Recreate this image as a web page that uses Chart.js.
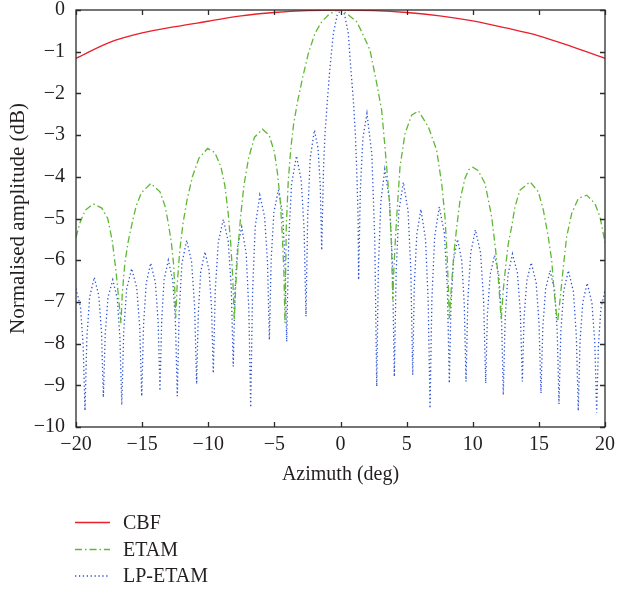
<!DOCTYPE html>
<html>
<head>
<meta charset="utf-8">
<script src="https://cdn.jsdelivr.net/npm/chart.js@4"></script>
<style>html,body{margin:0;padding:0;background:#fff;}canvas{display:block;}</style>
</head>
<body>
<canvas id="c" width="617" height="592"></canvas>
<script>
// ---- data ----
const seriesNames = ['CBF', 'ETAM', 'LP-ETAM'];
const xTicks = [-20, -15, -10, -5, 0, 5, 10, 15, 20];
const yTicks = [0, -1, -2, -3, -4, -5, -6, -7, -8, -9, -10];

const azimuthCBF = [-20, -17.5, -15, -12.5, -10, -7.5, -5, -2.5, 0, 2.5, 5, 7.5, 10, 12.5, 15, 17.5, 20];
const cbfDB      = [-1.16, -0.78, -0.55, -0.40, -0.27, -0.14, -0.06, -0.015, 0, -0.015, -0.06, -0.14, -0.26, -0.43, -0.62, -0.88, -1.16];

const azimuthETAM = [-20, -19.7, -19.3, -18.69, -18.05, -17.6, -17.25, -16.98, -16.78, -16.6,
  -16.5, -16.3, -16.05, -15.75, -15.45, -15.05, -14.35, -13.65, -13.25, -13.0, -12.78, -12.62, -12.53, -12.46,
  -12.35, -12.15, -11.9, -11.6, -11.2, -10.7, -10.05, -9.5, -9.05, -8.75, -8.5, -8.3, -8.15, -8.03,
  -7.92, -7.75, -7.55, -7.3, -6.95, -6.5, -5.9, -5.4, -5.0, -4.75, -4.55, -4.4, -4.28, -4.2,
  -4.1, -3.95, -3.75, -3.55, -3.25, -2.85, -2.43, -1.93, -1.42, -0.92, -0.42, 0, 0.47, 1.22, 1.6, 2.23, 2.74, 3.11, 3.36, 3.49, 3.69, 3.85, 3.95,
  4.05, 4.15, 4.25, 4.5, 4.88, 5.38, 5.9, 6.64, 7.27, 7.65, 7.9, 8.05, 8.15, 8.23,
  8.4, 8.6, 8.79, 9.04, 9.41, 9.7, 10.0, 10.4, 10.93, 11.43, 11.73, 11.95, 12.15,
  12.31, 12.51, 12.69, 12.94, 13.19, 13.57, 14.33, 14.96, 15.34, 15.71, 15.97, 16.14, 16.35, 16.42,
  16.6, 16.85, 17.1, 17.48, 17.98, 18.62, 19.24, 19.62, 19.92, 20];
const etamDB = [-5.45, -5.1, -4.8, -4.65, -4.75, -5.0, -5.55, -6.25, -6.9, -7.51,
  -6.8, -6.05, -5.55, -5.1, -4.7, -4.38, -4.16, -4.36, -4.72, -5.15, -5.6, -6.1, -6.7, -7.39,
  -6.6, -5.75, -5.1, -4.55, -4.0, -3.55, -3.32, -3.42, -3.75, -4.2, -4.85, -5.6, -6.4, -7.43,
  -6.6, -5.7, -4.95, -4.2, -3.55, -3.05, -2.86, -3.0, -3.4, -3.95, -4.6, -5.4, -6.3, -7.51,
  -5.2, -4.1, -3.3, -2.75, -2.2, -1.6, -1.04, -0.56, -0.28, -0.12, -0.02, 0, -0.08, -0.28, -0.52, -0.96, -1.76, -2.4, -3.28, -3.76, -4.56, -5.6, -6.95,
  -6.1, -5.5, -4.96, -3.76, -2.96, -2.52, -2.42, -2.8, -3.36, -4.16, -4.96, -5.8, -6.6, -7.4,
  -6.55, -5.76, -5.2, -4.56, -4.04, -3.83, -3.77, -3.85, -4.16, -4.96, -5.76, -6.5, -7.43,
  -6.71, -6.08, -5.6, -5.2, -4.72, -4.32, -4.12, -4.36, -4.8, -5.44, -6.0, -6.71, -7.35, -7.47,
  -6.95, -6.16, -5.44, -4.88, -4.52, -4.44, -4.64, -4.96, -5.44, -5.58];

const azimuthLP = [-20, -19.66, -19.46, -19.32,
  -19.18, -18.97, -18.62, -18.28, -18.07, -17.93,
  -17.79, -17.58, -17.22, -16.88, -16.68, -16.54,
  -16.39, -16.17, -15.79, -15.41, -15.18, -15.03,
  -14.89, -14.69, -14.35, -14.0, -13.79, -13.65,
  -13.52, -13.34, -13.02, -12.68, -12.48, -12.34,
  -12.2, -11.99, -11.63, -11.26, -11.03, -10.88,
  -10.75, -10.57, -10.25, -9.94, -9.75, -9.62,
  -9.47, -9.24, -8.86, -8.49, -8.26, -8.11,
  -7.98, -7.79, -7.47, -7.13, -6.93, -6.79,
  -6.65, -6.45, -6.1, -5.74, -5.52, -5.38,
  -5.24, -5.04, -4.7, -4.38, -4.2, -4.07,
  -3.92, -3.7, -3.33, -2.97, -2.75, -2.61,
  -2.48, -2.29, -1.97, -1.7, -1.53, -1.42,
  -1.36, -1.28, -1.17, -0.99, -0.79, -0.54, -0.25, 0, 0.3, 0.59, 0.77, 0.97, 1.12, 1.22, 1.33, 1.37,
  1.5, 1.69, 2.0, 2.37, 2.59, 2.74,
  2.86, 3.05, 3.35, 3.71, 3.93, 4.07,
  4.21, 4.41, 4.75, 5.11, 5.32, 5.46,
  5.58, 5.77, 6.08, 6.43, 6.63, 6.77,
  6.91, 7.12, 7.47, 7.85, 8.08, 8.23,
  8.35, 8.54, 8.85, 9.17, 9.36, 9.49,
  9.63, 9.85, 10.2, 10.59, 10.82, 10.98,
  11.11, 11.32, 11.65, 11.98, 12.18, 12.31,
  12.45, 12.66, 13.0, 13.38, 13.6, 13.75,
  13.88, 14.09, 14.42, 14.79, 15.01, 15.16,
  15.3, 15.51, 15.85, 16.19, 16.39, 16.52,
  16.66, 16.88, 17.23, 17.61, 17.83, 17.98,
  18.11, 18.32, 18.65, 19.01, 19.23, 19.37,
  19.5, 19.69, 20];
const lpDB = [-6.68, -7.12, -8.03, -9.61,
  -7.88, -6.89, -6.41, -6.84, -7.73, -9.29,
  -7.77, -6.89, -6.47, -6.92, -7.85, -9.47,
  -7.70, -6.69, -6.2, -6.66, -7.61, -9.26,
  -7.54, -6.55, -6.07, -6.53, -7.48, -9.13,
  -7.44, -6.47, -6.0, -6.49, -7.50, -9.26,
  -7.24, -6.08, -5.52, -6.04, -7.11, -8.97,
  -7.26, -6.28, -5.8, -6.24, -7.14, -8.71,
  -6.72, -5.57, -5.02, -5.55, -6.64, -8.55,
  -6.74, -5.70, -5.2, -5.85, -7.19, -9.53,
  -6.78, -5.20, -4.44, -4.96, -6.04, -7.91,
  -5.97, -4.86, -4.32, -4.86, -5.99, -7.95,
  -5.55, -4.17, -3.5, -4.08, -5.27, -7.35,
  -4.94, -3.55, -2.88, -3.31, -4.20, -5.76,
  -4.9, -3.76, -2.96, -2.16, -1.36, -0.56, -0.12, 0, -0.1, -0.56, -1.36, -2.16, -2.96, -3.76, -4.96, -6.47,
  -4.32, -3.08, -2.48, -3.46, -5.49, -9.03,
  -6.22, -4.60, -3.82, -4.57, -6.11, -8.79,
  -6.27, -4.83, -4.13, -4.82, -6.26, -8.75,
  -6.61, -5.38, -4.78, -5.50, -6.97, -9.55,
  -6.94, -5.44, -4.72, -5.35, -6.67, -8.95,
  -7.09, -6.02, -5.5, -6.01, -7.07, -8.91,
  -6.94, -5.82, -5.27, -5.82, -6.96, -8.95,
  -7.29, -6.34, -5.88, -6.38, -7.42, -9.23,
  -7.40, -6.36, -5.85, -6.31, -7.26, -8.91,
  -7.37, -6.49, -6.06, -6.53, -7.50, -9.19,
  -7.60, -6.69, -6.25, -6.73, -7.72, -9.45,
  -7.72, -6.73, -6.25, -6.75, -7.80, -9.61,
  -7.96, -7.01, -6.55, -7.02, -7.98, -9.66,
  -8.07, -7.16, -6.72];

// ---- rendering ----
const FONT = '"Liberation Serif", "Times New Roman", serif';
const TEXT = '#231f20';
const fmt = v => (v < 0 ? '\u2212' + Math.abs(v) : String(v));
const pts = (xs, ys) => xs.map((x, i) => ({ x: x, y: ys[i] }));

const framePlugin = {
  id: 'frame',
  afterDatasetsDraw(chart) {
    const { ctx, chartArea: a, scales: { x, y } } = chart;
    ctx.save();
    ctx.strokeStyle = '#2b2b2b';
    ctx.lineWidth = 1.3;
    ctx.strokeRect(a.left, a.top, a.right - a.left, a.bottom - a.top);
    ctx.beginPath();
    xTicks.forEach(v => {
      const px = Math.round(x.getPixelForValue(v)) + 0.5;
      ctx.moveTo(px, a.bottom); ctx.lineTo(px, a.bottom - 5);
      ctx.moveTo(px, a.top); ctx.lineTo(px, a.top + 5);
    });
    yTicks.forEach(v => {
      const py = Math.round(y.getPixelForValue(v)) + 0.5;
      ctx.moveTo(a.left, py); ctx.lineTo(a.left + 5, py);
      ctx.moveTo(a.right, py); ctx.lineTo(a.right - 5, py);
    });
    ctx.stroke();
    ctx.restore();
  },
  afterDraw(chart) {
    const ctx = chart.ctx;
    const ys = [522.5, 549.5, 576];
    ctx.save();
    chart.data.datasets.forEach((ds, i) => {
      ctx.strokeStyle = ds.borderColor;
      ctx.lineWidth = ds.borderWidth;
      ctx.setLineDash(ds.borderDash || []);
      ctx.beginPath();
      ctx.moveTo(75, ys[i]);
      ctx.lineTo(110, ys[i]);
      ctx.stroke();
      ctx.setLineDash([]);
      ctx.fillStyle = TEXT;
      ctx.font = '20px ' + FONT;
      ctx.textBaseline = 'middle';
      ctx.textAlign = 'left';
      ctx.fillText(ds.label, 123, ys[i] + 1);
    });
    ctx.restore();
  }
};

new Chart(document.getElementById('c'), {
  type: 'scatter',
  data: {
    datasets: [
      { label: seriesNames[0], data: pts(azimuthCBF, cbfDB), showLine: true, borderColor: '#e8202a', borderWidth: 1.3,
        cubicInterpolationMode: 'monotone', pointRadius: 0 },
      { label: seriesNames[1], data: pts(azimuthETAM, etamDB), showLine: true, borderColor: '#5fb833', borderWidth: 1.3,
        borderDash: [7, 3, 1.5, 3], pointRadius: 0, tension: 0 },
      { label: seriesNames[2], data: pts(azimuthLP, lpDB), showLine: true, borderColor: '#2f52cf', borderWidth: 1.3,
        borderDash: [1.3, 2.6], pointRadius: 0, tension: 0 }
    ]
  },
  options: {
    responsive: false,
    animation: false,
    devicePixelRatio: 1,
    layout: { padding: { left: 0, top: 10, right: 12, bottom: 95 } },
    plugins: { legend: { display: false }, tooltip: { enabled: false } },
    scales: {
      x: {
        type: 'linear', min: -20, max: 20,
        afterBuildTicks(s) { s.ticks = xTicks.map(v => ({ value: v })); },
        afterFit(s) { s.height = 70; s.paddingLeft = 0; s.paddingRight = 0; },
        grid: { display: false, drawTicks: false },
        border: { display: false },
        ticks: { padding: 6, color: TEXT, font: { family: FONT, size: 20 }, maxRotation: 0, autoSkip: false, callback: v => fmt(v) },
        title: { display: true, text: 'Azimuth (deg)', color: TEXT, font: { family: FONT, size: 20 }, padding: { top: 0, bottom: 10 } }
      },
      y: {
        type: 'linear', min: -10, max: 0,
        afterBuildTicks(s) { s.ticks = yTicks.map(v => ({ value: v })); },
        afterFit(s) { s.width = 76; s.paddingTop = 0; s.paddingBottom = 0; },
        grid: { display: false, drawTicks: false },
        border: { display: false },
        ticks: { padding: 11, color: TEXT, font: { family: FONT, size: 20 }, autoSkip: false, callback: v => fmt(v) },
        title: { display: true, text: 'Normalised amplitude (dB)', color: TEXT, font: { family: FONT, size: 21 }, padding: { top: 6, bottom: 0 } }
      }
    }
  },
  plugins: [framePlugin]
});
</script>
</body>
</html>
